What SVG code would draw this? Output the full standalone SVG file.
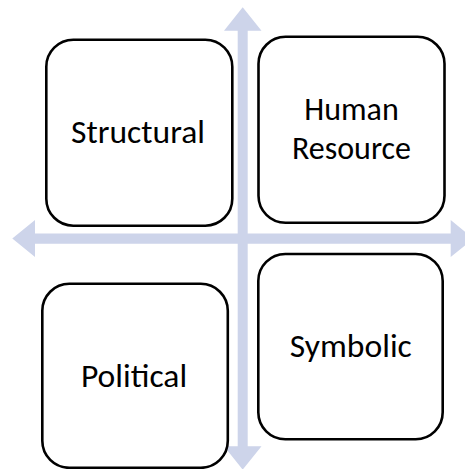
<svg xmlns="http://www.w3.org/2000/svg" width="465" height="469" viewBox="0 0 465 469">
<style>
.arrow{fill:#CDD4EA;stroke:none}
.box{fill:#FFFFFF;stroke:#000000;stroke-width:2.6}
.lbl{font-family:Calibri,Carlito,"Open Sans","Noto Sans",sans-serif;font-size:33.6px;fill:#000000;text-anchor:middle}
.lbl2{font-family:Calibri,Carlito,"Open Sans","Noto Sans",sans-serif;font-size:32px;fill:#000000;text-anchor:middle}
</style>
<rect width="465" height="469" fill="#FFFFFF"/>
<g id="connectors">
<polygon class="arrow" points="12.3,238.6 35,220 35,233.4 450.7,233.4 450.7,220 473.5,238.6 450.7,257 450.7,243.8 35,243.8 35,257"/>
<polygon class="arrow" points="242.7,7.3 261.5,30.7 247.7,30.7 247.7,446.3 261.5,446.3 242.7,469.6 224,446.3 237.7,446.3 237.7,30.7 224,30.7"/>
</g>
<g id="structural">
<rect class="box" x="46.3" y="39.7" width="186" height="186" rx="27" ry="27"/>
<text class="lbl" x="138" y="143.3">Structural</text>
</g>
<g id="human-resource">
<rect class="box" x="258.5" y="36.8" width="186" height="186" rx="27" ry="27"/>
<text class="lbl2" x="351.5" y="120">Human</text>
<text class="lbl2" x="351.5" y="158.5">Resource</text>
</g>
<g id="political">
<rect class="box" x="42.3" y="283.8" width="185.5" height="184" rx="27" ry="27"/>
<text class="lbl" x="134" y="386.7">Political</text>
</g>
<g id="symbolic">
<rect class="box" x="258.3" y="254" width="184.4" height="185.3" rx="27" ry="27"/>
<text class="lbl" x="350.8" y="356.7">Symbolic</text>
</g>
</svg>
